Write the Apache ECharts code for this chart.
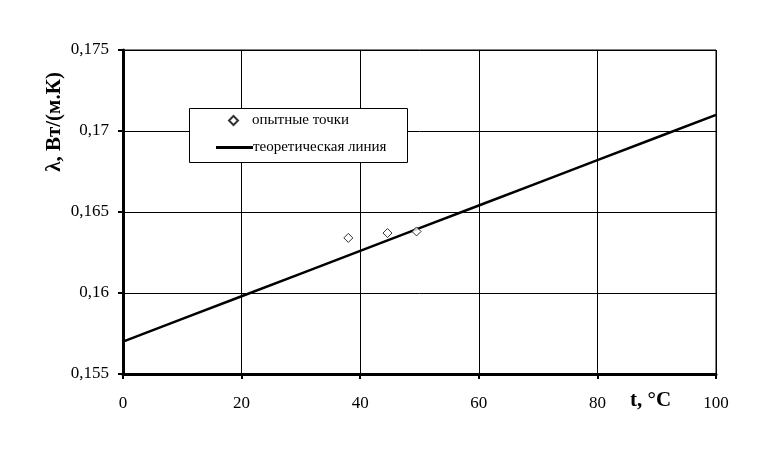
<!DOCTYPE html>
<html><head><meta charset="utf-8">
<script src="https://cdn.jsdelivr.net/npm/echarts@6/dist/echarts.min.js"></script>
<style>html,body{margin:0;padding:0;background:#fff}#c{width:773px;height:451px}</style>
</head><body><div id="c"></div>
<script>
// Experimental points: t (°C), lambda (W/(m.K))
const expT = [38.0, 44.6, 49.5];
const expLambda = [0.1634, 0.1637, 0.1638];
// Theoretical line
const theoT = [0, 10, 20, 30, 40, 50, 60, 70, 80, 90, 100];
const theoLambda = [0.157, 0.1584, 0.1598, 0.1612, 0.1626, 0.164, 0.1654, 0.1668, 0.1682, 0.1696, 0.171];
const seriesNames = ['опытные точки', 'теоретическая линия'];
const xTicks = [0, 20, 40, 60, 80, 100];
const yTicks = [0.155, 0.16, 0.165, 0.17, 0.175];

const font = 'Liberation Serif';
const chart = echarts.init(document.getElementById('c'), null, {renderer: 'canvas'});
chart.setOption({
  animation: false,
  backgroundColor: '#fff',
  grid: {left: 123, right: 57, top: 50, bottom: 77, show: true, borderColor: '#000', borderWidth: 1},
  xAxis: {
    type: 'value', min: xTicks[0], max: xTicks[xTicks.length - 1], interval: 20,
    axisLine: {onZero: false, lineStyle: {color: '#000', width: 3}},
    axisTick: {show: true, length: 5, lineStyle: {color: '#000', width: 2}},
    axisLabel: {margin: 21, color: '#000', fontFamily: font, fontSize: 17},
    splitLine: {show: true, lineStyle: {color: '#000', width: 1}}
  },
  yAxis: {
    type: 'value', min: yTicks[0], max: yTicks[yTicks.length - 1], interval: 0.005,
    axisLine: {onZero: false, lineStyle: {color: '#000', width: 3}},
    axisTick: {show: true, length: 5, lineStyle: {color: '#000', width: 2}},
    axisLabel: {margin: 14, color: '#000', fontFamily: font, fontSize: 17,
      formatter: v => String(+v.toFixed(3)).replace('.', ',')},
    splitLine: {show: true, lineStyle: {color: '#000', width: 1}}
  },
  legend: [
    {data: [seriesNames[0]], orient: 'vertical', left: 223, top: 108, itemWidth: 9, itemHeight: 9, itemGap: 0,
      textStyle: {fontFamily: font, fontSize: 15, color: '#000', padding: [0, 0, 0, 9]}},
    {data: [{name: seriesNames[1], icon: 'rect'}], orient: 'vertical', left: 211, top: 135, itemWidth: 37, itemHeight: 3, itemGap: 0,
      textStyle: {fontFamily: font, fontSize: 15, color: '#000', padding: [0, 0, 0, -5]}}
  ],
  graphic: [
    {type: 'rect', z: 3, shape: {x: 189.5, y: 108.5, width: 218, height: 54},
      style: {fill: '#fff', stroke: '#000', lineWidth: 1}},
    {type: 'text', left: 630, top: 390, z: 5,
      style: {text: 't, °C', font: 'bold 21px "Liberation Serif"', fill: '#000'}},
    {type: 'text', x: 55, y: 122, rotation: Math.PI / 2, z: 5,
      style: {text: 'λ, Вт/(м.К)', font: 'bold 21px "Liberation Serif"', fill: '#000', align: 'center', verticalAlign: 'middle'}}
  ],
  series: [
    {name: seriesNames[0], type: 'scatter', symbol: 'diamond', symbolSize: 9, z: 4,
      itemStyle: {color: '#fff', borderColor: '#000', borderWidth: 1},
      data: expT.map((t, i) => [t, expLambda[i]])},
    {name: seriesNames[1], type: 'line', showSymbol: false, symbol: 'none', z: 4,
      lineStyle: {color: '#000', width: 2.5}, itemStyle: {color: '#000'},
      data: theoT.map((t, i) => [t, theoLambda[i]])}
  ]
});
</script></body></html>
